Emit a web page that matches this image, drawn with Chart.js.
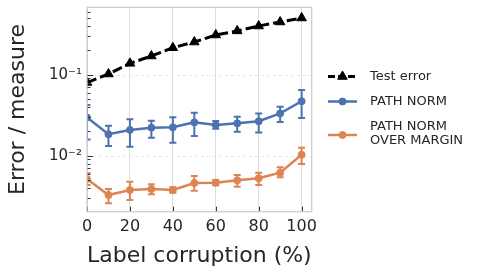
<!DOCTYPE html>
<html><head><meta charset="utf-8">
<script src="https://cdn.jsdelivr.net/npm/chart.js@4.4.1/dist/chart.umd.min.js"></script>
<style>html,body{margin:0;padding:0;background:#fff;}#wrap{width:479px;height:274px;position:relative;}</style>
</head><body><div id="wrap"><canvas id="c" width="479" height="274"></canvas></div>
<script>
// ---- data ----
const corruption = [0, 10, 20, 30, 40, 50, 60, 70, 80, 90, 100];
const testError = [0.080, 0.102, 0.138, 0.170, 0.215, 0.253, 0.309, 0.347, 0.399, 0.447, 0.501];
const pathNorm = [0.0296, 0.0184, 0.0208, 0.0222, 0.0224, 0.0258, 0.0239, 0.0251, 0.0266, 0.0333, 0.0470];
const pathNormLow = [0.0159, 0.0132, 0.0129, 0.0167, 0.0145, 0.0175, 0.0215, 0.0198, 0.0194, 0.0261, 0.0292];
const pathNormHigh = [0.0423, 0.0234, 0.0281, 0.0270, 0.0298, 0.0340, 0.0268, 0.0303, 0.0333, 0.0403, 0.0647];
const pathMargin = [0.00515, 0.00327, 0.00377, 0.00388, 0.00377, 0.00460, 0.00465, 0.00497, 0.00526, 0.00617, 0.01028];
const pathMarginLow = [0.00434, 0.00258, 0.00284, 0.00334, 0.00349, 0.00370, 0.00431, 0.00414, 0.00434, 0.00541, 0.00791];
const pathMarginHigh = [0.00611, 0.00388, 0.00478, 0.00444, 0.00407, 0.00561, 0.00501, 0.00578, 0.00617, 0.00719, 0.01256];
const xTicks = [0, 20, 40, 60, 80, 100];
const yTicks = [0.01, 0.1];
const yTickLabels = ['10\u207B\u00B2', '10\u207B\u00B9'];
const seriesLabels = [['Test error'], ['PATH NORM'], ['PATH NORM', 'OVER MARGIN']];
const xTitle = 'Label corruption (%)';
const yTitle = 'Error / measure';

// ---- styles ----
const FONT = "'DejaVu Sans', sans-serif";
const TEXT = '#262626';
const BLUE = '#4c72b0';
const ORANGE = '#dd8452';
const BLACK = '#000000';
const X_MIN = 0, X_MAX = 104.7;
const Y_MIN = 0.002036, Y_MAX = 0.679;

function pts(ys){ return corruption.map((c,i)=>({x:c, y:ys[i]})); }

const errorSets = [
  {low: pathNormLow, high: pathNormHigh, color: BLUE},
  {low: pathMarginLow, high: pathMarginHigh, color: ORANGE}
];

const legendItems = [
  {lines: seriesLabels[0], color: BLACK, dash: [7,3], width: 3, marker: 'triangle', r: 5.5, y: 76.5},
  {lines: seriesLabels[1], color: BLUE, dash: [], width: 2.5, marker: 'circle', r: 3.5, y: 101.5},
  {lines: seriesLabels[2], color: ORANGE, dash: [], width: 2.5, marker: 'circle', r: 3.5, y: 135}
];

function drawMarker(ctx, kind, x, y, r, color){
  ctx.save();
  ctx.fillStyle = color; ctx.strokeStyle = color; ctx.lineWidth = 1;
  ctx.beginPath();
  if (kind === 'triangle'){
    let rad = 0;
    ctx.moveTo(x + Math.sin(rad)*r, y - Math.cos(rad)*r);
    rad += 2*Math.PI/3; ctx.lineTo(x + Math.sin(rad)*r, y - Math.cos(rad)*r);
    rad += 2*Math.PI/3; ctx.lineTo(x + Math.sin(rad)*r, y - Math.cos(rad)*r);
    ctx.closePath();
  } else {
    ctx.arc(x, y, r, 0, Math.PI*2);
  }
  ctx.fill(); ctx.stroke();
  ctx.restore();
}

const decor = {
  id: 'decor',
  beforeDatasetsDraw(chart){
    const {ctx, chartArea: a, scales: {x, y}} = chart;
    ctx.save();
    ctx.strokeStyle = '#e8e8e8'; ctx.lineWidth = 1; ctx.setLineDash([3,3]);
    yTicks.forEach(v => {
      const py = Math.round(y.getPixelForValue(v)) + 0.5;
      ctx.beginPath(); ctx.moveTo(a.left, py); ctx.lineTo(a.right, py); ctx.stroke();
    });
    ctx.setLineDash([]);
    ctx.beginPath(); ctx.rect(a.left, a.top, a.right - a.left, a.bottom - a.top); ctx.clip();
    errorSets.forEach(s => {
      ctx.strokeStyle = s.color; ctx.lineWidth = 2;
      corruption.forEach((c, i) => {
        const px = x.getPixelForValue(c);
        const p1 = y.getPixelForValue(s.low[i]);
        const p2 = y.getPixelForValue(s.high[i]);
        ctx.beginPath();
        ctx.moveTo(px, p1); ctx.lineTo(px, p2);
        ctx.moveTo(px - 3.5, p1); ctx.lineTo(px + 3.5, p1);
        ctx.moveTo(px - 3.5, p2); ctx.lineTo(px + 3.5, p2);
        ctx.stroke();
      });
    });
    ctx.restore();
  },
  afterDatasetsDraw(chart){
    const {ctx, chartArea: a, scales: {x, y}} = chart;
    ctx.save();
    ctx.strokeStyle = '#333333'; ctx.lineWidth = 1;
    xTicks.forEach(v => {
      const px = Math.round(x.getPixelForValue(v)) + 0.5;
      ctx.beginPath(); ctx.moveTo(px, a.bottom); ctx.lineTo(px, a.bottom - 5); ctx.stroke();
    });
    for (let e = -3; e <= 0; e++){
      for (let m = 1; m <= 9; m++){
        const v = m * Math.pow(10, e);
        if (v < Y_MIN || v > Y_MAX) continue;
        const py = Math.round(y.getPixelForValue(v)) + 0.5;
        const len = m === 1 ? 6 : 3.5;
        ctx.beginPath(); ctx.moveTo(a.left, py); ctx.lineTo(a.left + len, py); ctx.stroke();
      }
    }
    ctx.strokeStyle = '#cccccc'; ctx.lineWidth = 1.25;
    ctx.strokeRect(a.left, a.top, a.right - a.left, a.bottom - a.top);
    ctx.restore();
  },
  afterDraw(chart){
    const ctx = chart.ctx;
    ctx.save();
    legendItems.forEach(it => {
      ctx.strokeStyle = it.color; ctx.lineWidth = it.width; ctx.setLineDash(it.dash);
      ctx.beginPath(); ctx.moveTo(328, it.y); ctx.lineTo(357, it.y); ctx.stroke();
      ctx.setLineDash([]);
      drawMarker(ctx, it.marker, 342.5, it.y, it.r, it.color);
      ctx.fillStyle = TEXT; ctx.font = '13px ' + FONT; ctx.textBaseline = 'middle'; ctx.textAlign = 'left';
      const n = it.lines.length;
      it.lines.forEach((t, k) => {
        const ty = n === 1 ? it.y : (it.y - 8 + k * 14);
        ctx.fillText(t, 370, ty);
      });
    });
    ctx.restore();
  }
};

new Chart(document.getElementById('c'), {
  type: 'line',
  data: {
    datasets: [
      {label: seriesLabels[0].join(' '), data: pts(testError), borderColor: BLACK, backgroundColor: BLACK,
       borderWidth: 3, borderDash: [10,4], pointStyle: 'triangle', pointRadius: 5.5, pointBorderWidth: 1, clip: 0, tension: 0},
      {label: seriesLabels[1].join(' '), data: pts(pathNorm), borderColor: BLUE, backgroundColor: BLUE,
       borderWidth: 2.5, pointStyle: 'circle', pointRadius: 3.5, pointBorderWidth: 1, clip: 0, tension: 0},
      {label: seriesLabels[2].join(' '), data: pts(pathMargin), borderColor: ORANGE, backgroundColor: ORANGE,
       borderWidth: 2.5, pointStyle: 'circle', pointRadius: 3.5, pointBorderWidth: 1, clip: 0, tension: 0}
    ]
  },
  options: {
    responsive: false, animation: false, devicePixelRatio: 1,
    layout: {padding: {left: 0, right: 167.3, top: 7.3, bottom: 0}},
    plugins: {legend: {display: false}, tooltip: {enabled: false}},
    scales: {
      x: {
        type: 'linear', min: X_MIN, max: X_MAX,
        afterBuildTicks: s => { s.ticks = xTicks.map(v => ({value: v})); },
        afterFit: s => { s.height = 62.3; s.paddingLeft = 0; s.paddingRight = 0; },
        grid: {color: '#dddddd', lineWidth: 1, drawTicks: false},
        border: {display: false},
        ticks: {font: {family: FONT, size: 16}, color: TEXT, padding: 6, maxRotation: 0, autoSkip: false},
        title: {display: true, text: xTitle, font: {family: FONT, size: 22}, color: TEXT, padding: {top: 0, bottom: 5}}
      },
      y: {
        type: 'logarithmic', min: Y_MIN, max: Y_MAX,
        afterBuildTicks: s => { s.ticks = yTicks.map(v => ({value: v})); },
        afterFit: s => { s.width = 87; s.paddingTop = 0; s.paddingBottom = 0; },
        grid: {display: false, drawTicks: false},
        border: {display: false},
        ticks: {font: {family: FONT, size: 15}, color: TEXT, padding: 5, autoSkip: false,
                callback: (v) => yTickLabels[yTicks.indexOf(v)]},
        title: {display: true, text: yTitle, font: {family: FONT, size: 22}, color: TEXT, padding: {top: 5, bottom: 0}}
      }
    }
  },
  plugins: [decor]
});
</script></body></html>
